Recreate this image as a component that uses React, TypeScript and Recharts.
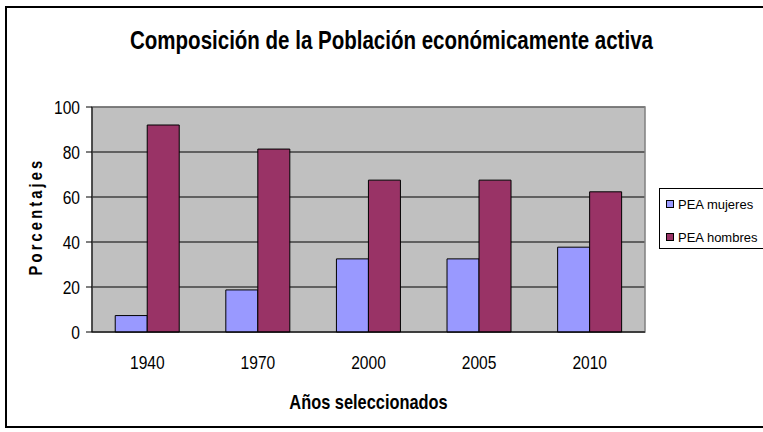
import React from "react";
import {
  BarChart,
  Bar,
  XAxis,
  YAxis,
  CartesianGrid,
  ReferenceArea,
} from "recharts";

const years = ["1940", "1970", "2000", "2005", "2010"];
const peaMujeres = [7.3, 18.7, 32.5, 32.5, 37.7];
const peaHombres = [92, 81.3, 67.5, 67.5, 62.3];
const yTicks = [0, 20, 40, 60, 80, 100];
const edgeTicks = [0, 1, 2, 3, 4, 5];

const series = [
  { key: "mujeres", name: "PEA mujeres", color: "#9999FF" },
  { key: "hombres", name: "PEA hombres", color: "#993366" },
];

const data = years.map((y, i) => ({
  year: y,
  mujeres: peaMujeres[i],
  hombres: peaHombres[i],
}));

const FONT = "'Liberation Sans', Arial, sans-serif";
// the original text is a narrow face, so squeeze it sideways
const SQ = 0.82;

const XTick = ({ x, y, payload }: any) => (
  <text
    transform={`translate(${x},${y}) scale(${SQ},1)`}
    dy={37}
    textAnchor="middle"
    fontFamily={FONT}
    fontSize={19}
    fill="#000"
  >
    {payload.value}
  </text>
);

const YTick = ({ x, y, payload }: any) => (
  <text
    transform={`translate(${x},${y}) scale(${SQ},1)`}
    dy={7}
    textAnchor="end"
    fontFamily={FONT}
    fontSize={19}
    fill="#000"
  >
    {payload.value}
  </text>
);

export default function App() {
  return (
    <div style={{ position: "relative", width: 763, height: 432, overflow: "hidden", background: "#fff" }}>
      <style>{"body{margin:0}"}</style>
      {/* outer frame */}
      <div
        style={{
          position: "absolute",
          left: 5,
          top: 6,
          width: 800,
          height: 418,
          border: "2px solid #000",
        }}
      />
      <div
        style={{
          position: "absolute",
          left: 10,
          top: 28,
          width: 763,
          textAlign: "center",
          fontFamily: FONT,
          fontWeight: "bold",
          fontSize: 25,
          lineHeight: "25px",
          color: "#000",
          transform: `scaleX(${SQ})`,
          transformOrigin: "center",
          whiteSpace: "nowrap",
        }}
      >
        Composición de la Población económicamente activa
      </div>

      <div style={{ position: "absolute", left: 0, top: 0 }}>
        <BarChart
          width={763}
          height={432}
          data={data}
          margin={{ top: 107, right: 118, bottom: 20, left: 0 }}
          barCategoryGap="21%"
          barGap={0}
        >
          <CartesianGrid vertical={false} fill="#C0C0C0" stroke="#000" strokeWidth={1} />
          <XAxis
            xAxisId="edges"
            type="number"
            domain={[0, 5]}
            ticks={edgeTicks}
            allowDataOverflow
            height={0}
            axisLine={false}
            tick={false}
            tickSize={6}
            tickLine={{ stroke: "#000" }}
          />
          <XAxis
            dataKey="year"
            height={80}
            tickLine={false}
            tickSize={0}
            tickMargin={0}
            axisLine={{ stroke: "#000" }}
            tick={<XTick />}
            label={({ viewBox }: any) => {
              const cx = viewBox.x + viewBox.width / 2;
              const cy = viewBox.y + 77;
              return (
                <text
                  transform={`translate(${cx},${cy}) scale(${SQ},1)`}
                  textAnchor="middle"
                  fontFamily={FONT}
                  fontWeight="bold"
                  fontSize={20}
                  fill="#000"
                >
                  Años seleccionados
                </text>
              );
            }}
          />
          <YAxis
            width={92}
            domain={[0, 100]}
            ticks={yTicks}
            tickSize={6}
            tickMargin={6}
            tickLine={{ stroke: "#000" }}
            axisLine={{ stroke: "#000" }}
            tick={<YTick />}
            label={({ viewBox }: any) => {
              const cx = viewBox.x + 42;
              const cy = viewBox.y + viewBox.height / 2 - 3;
              return (
                <text
                  transform={`translate(${cx},${cy}) rotate(-90) scale(${SQ},1)`}
                  textAnchor="middle"
                  fontFamily={FONT}
                  fontWeight="bold"
                  fontSize={18}
                  letterSpacing={3.8}
                  fill="#000"
                >
                  Porcentajes
                </text>
              );
            }}
          />
          <ReferenceArea y1={0} y2={100} fill="none" stroke="#808080" strokeWidth={1.5} ifOverflow="visible" />
          {series.map((s) => (
            <Bar
              key={s.key}
              dataKey={s.key}
              name={s.name}
              fill={s.color}
              stroke="#000"
              strokeWidth={1}
              isAnimationActive={false}
            />
          ))}
        </BarChart>
      </div>

      {/* legend */}
      <div
        style={{
          position: "absolute",
          left: 659,
          top: 188,
          width: 120,
          height: 61,
          border: "1px solid #000",
          background: "#fff",
          paddingTop: 5,
          boxSizing: "border-box",
          display: "flex",
          flexDirection: "column",
          gap: 13,
        }}
      >
        {series.map((s) => (
          <div
            key={s.key}
            style={{
              display: "flex",
              alignItems: "center",
              height: 20,
              fontFamily: FONT,
              fontSize: 13,
              color: "#000",
            }}
          >
            <span
              style={{
                display: "inline-block",
                width: 6,
                height: 6,
                border: "1px solid #000",
                background: s.color,
                marginLeft: 6,
                marginRight: 4,
              }}
            />
            {s.name}
          </div>
        ))}
      </div>
    </div>
  );
}
